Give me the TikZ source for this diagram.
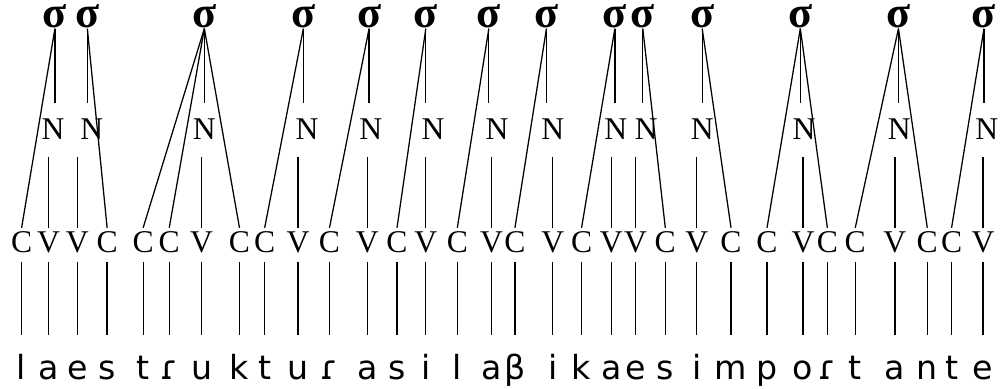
\documentclass[tikz,border=0pt]{standalone}
\usepackage{fontspec}
\setmainfont{Liberation Serif}
\newfontfamily\fonofont{DejaVu Sans}
\usepackage{tikz}

\begin{document}
\begin{tikzpicture}[line width=0.4pt,
  silaba/.style={inner sep=0pt,anchor=base,text height=0.2cm,text depth=0pt,font=\bfseries\fontsize{14}{14}\selectfont},
  nucleo/.style={inner sep=0pt,anchor=base,text height=0.22cm,text depth=0pt,outer ysep=0.19cm,font=\fontsize{10}{10}\selectfont},
  esq/.style={inner sep=0pt,anchor=base,text height=0.23cm,text depth=0.05cm,outer ysep=0.05cm,font=\fontsize{10}{10}\selectfont},
  fono/.style={inner sep=0pt,anchor=base,text height=0.3cm,text depth=0.08cm,outer ysep=0.2cm,font=\fonofont\fontsize{10.5}{10.5}\selectfont}]
  \useasboundingbox (0,0) rectangle (11.13,4.32);
  % esqueleto CV y segmentos
  \foreach \i/\x/\t/\f in {1/0.24/C/l,2/0.54/V/a,3/0.86/V/e,4/1.19/C/s,5/1.59/C/t,6/1.88/C/ɾ,
      7/2.24/V/u,8/2.66/C/k,9/2.94/C/t,10/3.31/V/u,11/3.66/C/ɾ,12/4.08/V/a,13/4.41/C/s,
      14/4.73/V/i,15/5.08/C/l,16/5.46/V/a,17/5.72/C/β,18/6.14/V/i,19/6.46/C/k,20/6.79/V/a,
      21/7.06/V/e,22/7.39/C/s,23/7.74/V/i,24/8.12/C/m,25/8.52/C/p,26/8.92/V/o,27/9.19/C/ɾ,
      28/9.50/C/t,29/9.94/V/a,30/10.30/C/n,31/10.57/C/t,32/10.92/V/e}{
    \node[esq] (cv\i) at (\x,1.51) {\t};
    \node[fono] (f\i) at (\x,0.1) {\f};
    \draw (cv\i.south) -- (f\i.north);
  }
  % silabas con su nucleo
  \foreach \k/\sx/\nx/\v in {1/0.61/0.59/2,2/0.97/1.02/3,3/2.27/2.27/7,4/3.37/3.41/10,
      5/4.10/4.12/12,6/4.73/4.81/14,7/5.43/5.52/16,8/6.07/6.14/18,9/6.83/6.84/20,
      10/7.14/7.18/21,11/7.80/7.80/23,12/8.89/8.93/26,13/9.98/9.99/29,14/10.93/10.96/32}{
    \node[silaba] (s\k) at (\sx,4.01) {σ};
    \node[nucleo] (n\k) at (\nx,2.77) {N};
    \draw (s\k.south) -- (s\k.south |- n\k.north);
    \draw (n\k.south -| cv\v) -- (cv\v.north);
  }
  % ataques y codas
  \draw (s1.south) -- (cv1.north);
  \draw (s2.south) -- (cv4.north);
  \draw (s3.south) -- (cv5.north);
  \draw (s3.south) -- (cv6.north);
  \draw (s3.south) -- (cv8.north);
  \draw (s4.south) -- (cv9.north);
  \draw (s5.south) -- (cv11.north);
  \draw (s6.south) -- (cv13.north);
  \draw (s7.south) -- (cv15.north);
  \draw (s8.south) -- (cv17.north);
  \draw (s9.south) -- (cv19.north);
  \draw (s10.south) -- (cv22.north);
  \draw (s11.south) -- (cv24.north);
  \draw (s12.south) -- (cv25.north);
  \draw (s12.south) -- (cv27.north);
  \draw (s13.south) -- (cv28.north);
  \draw (s13.south) -- (cv30.north);
  \draw (s14.south) -- (cv31.north);
\end{tikzpicture}
\end{document}
